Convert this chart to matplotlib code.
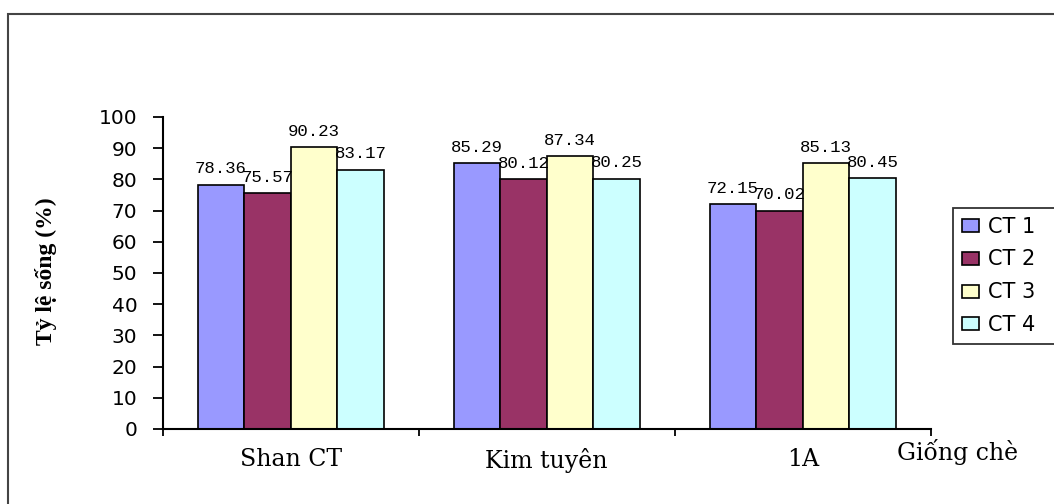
import numpy as np
import matplotlib.pyplot as plt
from matplotlib.patches import Rectangle

# tỷ lệ sống theo giống chè và công thức
giong = ['Shan CT', 'Kim tuyên', '1A']
cong_thuc = ['CT 1', 'CT 2', 'CT 3', 'CT 4']
ct1 = [78.36, 85.29, 72.15]
ct2 = [75.57, 80.12, 70.02]
ct3 = [90.23, 87.34, 85.13]
ct4 = [83.17, 80.25, 80.45]
mau = ['#9999FF', '#993366', '#FFFFCC', '#CCFFFF']

W, H = 1054, 504
fig = plt.figure(figsize=(W / 100, H / 100), dpi=100)
fig.patch.set_facecolor('white')
ax = fig.add_axes([162.6 / W, 1 - 429 / H, (930.8 - 162.6) / W, (429 - 117) / H])

x = np.arange(len(giong))
w = 0.1816
for i, (ten, vals) in enumerate(zip(cong_thuc, [ct1, ct2, ct3, ct4])):
    bars = ax.bar(x + (i - 1.5) * w, vals, w, color=mau[i], edgecolor='black',
                  linewidth=1.2, label=ten)
    ax.bar_label(bars, labels=['%.2f' % v for v in vals], padding=6,
                 fontsize=12.5, family='Liberation Mono', color='black')

ax.set_xlim(-0.5, 2.5)
ax.set_ylim(0, 100)
ax.set_yticks(range(0, 101, 10))
ax.tick_params(axis='y', direction='out', length=7.2, width=1.3, pad=11,
               labelsize=14.5)
for t in ax.get_yticklabels():
    t.set_family('DejaVu Sans')

# vạch chia giữa các nhóm, nhãn đặt ở giữa nhóm
ax.set_xticks([-0.5, 0.5, 1.5, 2.5])
ax.set_xticklabels([])
ax.tick_params(axis='x', which='major', direction='out', length=5, width=1.3)
ax.set_xticks(x, minor=True)
ax.set_xticklabels(giong, minor=True, family='DejaVu Serif', fontsize=17)
ax.tick_params(axis='x', which='minor', length=0, pad=14)

for s in ['top', 'right']:
    ax.spines[s].set_visible(False)
for s in ['left', 'bottom']:
    ax.spines[s].set_linewidth(1.5)

ax.set_ylabel('Tỷ lệ sống (%)', family='Liberation Serif', fontweight='bold',
              fontsize=17)
ax.yaxis.set_label_coords((57 - 162.6) / 768.2, (429 - 271) / 312)

fig.text(958 / W, 1 - 452 / H, 'Giống chè', family='DejaVu Serif',
         fontsize=17, ha='center', va='center')

# chú giải kéo dài ra ngoài mép phải của hình
leg = fig.legend(loc='upper left',
                 bbox_to_anchor=(953 / W, 1 - 347 / H, 130 / W, 139 / H),
                 mode='expand', borderaxespad=0,
                 prop={'family': 'DejaVu Sans', 'size': 15},
                 fancybox=False, frameon=True, edgecolor='black',
                 handlelength=0.82, handleheight=0.58, handletextpad=0.43,
                 labelspacing=0.62, borderpad=0.41)
leg.get_frame().set_linewidth(1.3)

# khung ngoài của biểu đồ
fig.patches.append(Rectangle((8 / W, -0.5), 2, 1 - 14 / H + 0.5,
                             transform=fig.transFigure, fill=False,
                             edgecolor='#444444', linewidth=1.5))

fig.savefig('out.png', dpi=100)
